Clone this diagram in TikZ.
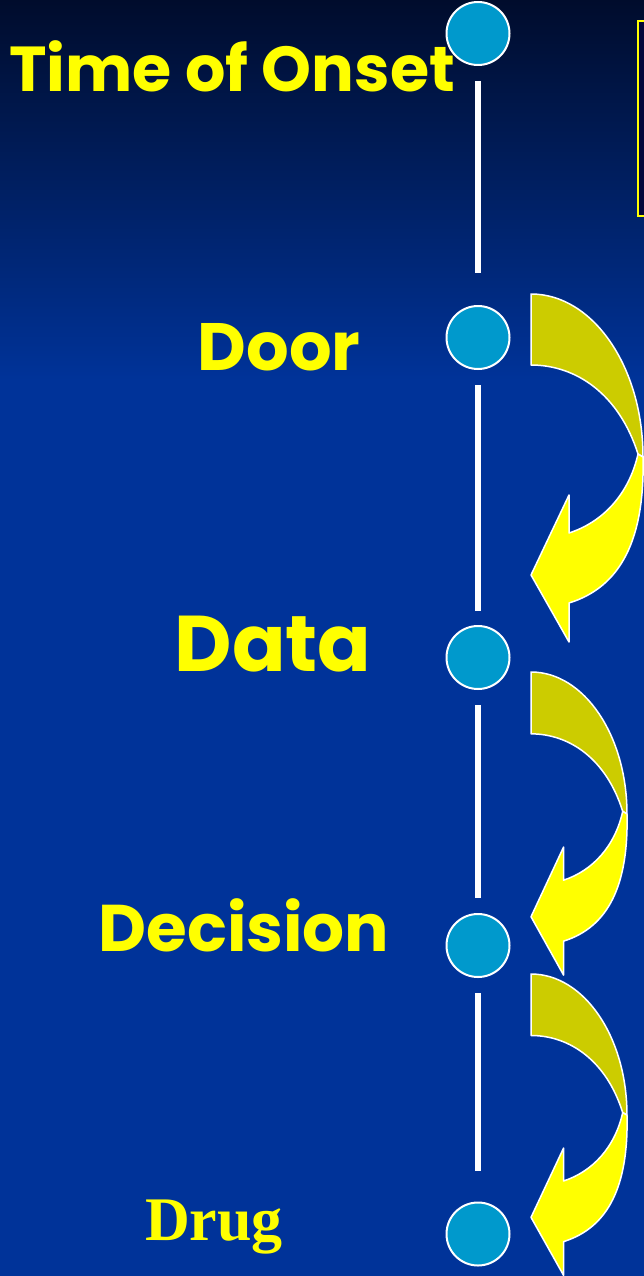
\documentclass[tikz,border=0pt]{standalone}
\usepackage{fontspec}
\setsansfont{Poppins}
\setmainfont{Liberation Serif}
\usetikzlibrary{positioning}
\definecolor{bgtop}{HTML}{000C2C}
\definecolor{bgblue}{HTML}{003399}
\definecolor{dotcolor}{HTML}{0099CC}
\definecolor{bendolive}{HTML}{CCCC00}
\definecolor{bendyellow}{HTML}{FFFF00}
\definecolor{boxnavy}{HTML}{03063A}

\begin{document}
\begin{tikzpicture}[x=1pt, y=-1pt,
    dot/.style={circle, draw=white, line width=2pt, fill=dotcolor, minimum size=63pt, inner sep=0pt},
    tline/.style={draw=white, line width=6pt},
    lbl/.style={anchor=base, text=bendyellow, inner sep=0pt, font=\sffamily\bfseries},
    bendshape/.style={draw=white, line width=1.5pt, line join=round}
]
\useasboundingbox (0,0) rectangle (644,1276);
\clip (0,0) rectangle (644,1276);

% background
\fill[top color=bgtop, bottom color=bgblue] (0,0) rectangle (644,380);
\fill[bgblue] (0,379) rectangle (644,1276);

% note box (cut off at the right)
\filldraw[draw=bendyellow, fill=boxnavy, line width=2.5pt] (638,21) rectangle (700,216);

% time line
\node[dot] (onset) at (478,33.5) {};
\node[dot] (door) at (478,337.5) {};
\node[dot] (data) at (478,657.5) {};
\node[dot] (decision) at (478,945.5) {};
\node[dot] (drug) at (478,1234) {};

\draw[tline, shorten <=15pt, shorten >=32pt] (onset) -- (door);
\draw[tline, shorten <=15pt, shorten >=14pt] (door) -- (data);
\draw[tline, shorten <=15pt, shorten >=15pt] (data) -- (decision);
\draw[tline, shorten <=15pt, shorten >=31pt] (decision) -- (drug);

% labels
\node[lbl, font=\sffamily\bfseries\fontsize{63.5}{72}\selectfont] (onsetlbl) at (232,92) {Time of Onset};
\node[lbl, font=\sffamily\bfseries\fontsize{67}{75}\selectfont] (doorlbl) at (279,370) {Door};
\node[lbl, font=\sffamily\bfseries\fontsize{79}{88}\selectfont] (datalbl) at (273,671) {Data};
\node[lbl, font=\sffamily\bfseries\fontsize{66}{74}\selectfont] (decisionlbl) at (244,951) {Decision};
\node[lbl, font=\rmfamily\bfseries\fontsize{62}{70}\selectfont] (druglbl) at (214,1240) {Drug};

% bent arrows
\foreach \ay/\sx/\sy in {294/1/1, 672/0.857/0.871, 974/0.857/0.866} {
  \begin{scope}[shift={(531,\ay)}, xscale=\sx, yscale=\sy]
    \filldraw[bendshape, fill=bendolive] (0,0) .. controls (62,0) and (112,73) .. (112,163)
      -- (107,160) .. controls (88,100) and (45,71) .. (0,71) -- cycle;
    \filldraw[bendshape, fill=bendyellow] (107,160) .. controls (98,200) and (72,228) .. (38,239)
      -- (38,201) -- (0,281) -- (38,348) -- (38,309)
      .. controls (90,293) and (114,245) .. (112,163) -- cycle;
  \end{scope}
}

\end{tikzpicture}
\end{document}
